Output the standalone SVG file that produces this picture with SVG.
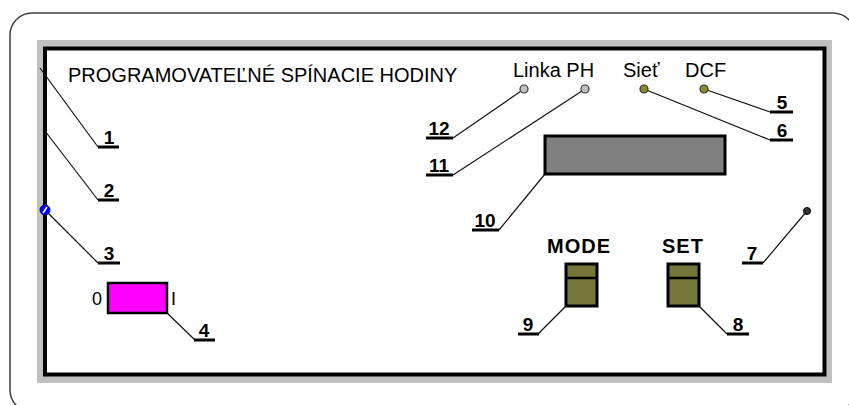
<svg xmlns="http://www.w3.org/2000/svg" width="849" height="405" viewBox="0 0 849 405">
<defs>
<style>
.t{font-family:"Liberation Sans",Arial,sans-serif;font-size:20px;fill:#000}
.n{font-family:"Liberation Sans",Arial,sans-serif;font-size:19px;font-weight:bold;fill:#000;text-anchor:middle}
.b{font-family:"Liberation Sans",Arial,sans-serif;font-size:20px;font-weight:bold;fill:#000;letter-spacing:1px}
.ln{stroke:#111;stroke-width:1.2;fill:none}
.ul{stroke:#000;stroke-width:3;fill:none}
.led{stroke:#333;stroke-width:1.2}
.btn{fill:#76763a;stroke:#000;stroke-width:3}
</style>
</defs>
<rect width="849" height="405" fill="#fff"/>
<g id="frame">
<rect x="10" y="13" width="845" height="399" rx="22" ry="22" fill="none" stroke="#404040" stroke-width="1.5"/>
<rect x="37" y="40" width="795" height="343" fill="#c0c0c0"/>
<rect x="45" y="48.5" width="779.5" height="326" fill="#fff" stroke="#000" stroke-width="4"/>
</g>
<g id="title"><text class="t" x="68" y="82">PROGRAMOVATEĽNÉ SPÍNACIE HODINY</text></g>
<g id="connectors">
<polyline class="ln" points="40,68 98,147"/>
<polyline class="ln" points="45,131 98,200"/>
<polyline class="ln" points="48,213 98,263"/>
<polyline class="ln" points="167,313 195,340"/>
<polyline class="ln" points="704,89 770,112"/>
<polyline class="ln" points="644,89 770,140"/>
<polyline class="ln" points="807,211 763,263"/>
<polyline class="ln" points="699,306 727,334"/>
<polyline class="ln" points="566,306 538,334"/>
<polyline class="ln" points="545,174 499,230"/>
<polyline class="ln" points="585,89 453,175"/>
<polyline class="ln" points="524,89 453,138"/>
</g>
<g id="labels">
<line class="ul" x1="98" y1="147" x2="119" y2="147"/><text class="n" x="109" y="144">1</text>
<line class="ul" x1="98" y1="200" x2="119" y2="200"/><text class="n" x="109" y="197">2</text>
<line class="ul" x1="98" y1="263" x2="120" y2="263"/><text class="n" x="109" y="260">3</text>
<line class="ul" x1="194" y1="340" x2="215" y2="340"/><text class="n" x="204" y="337">4</text>
<line class="ul" x1="770" y1="112" x2="793" y2="112"/><text class="n" x="782" y="109">5</text>
<line class="ul" x1="770" y1="140" x2="793" y2="140"/><text class="n" x="782" y="137">6</text>
<line class="ul" x1="742" y1="263" x2="763" y2="263"/><text class="n" x="752" y="260">7</text>
<line class="ul" x1="727" y1="334" x2="749" y2="334"/><text class="n" x="738" y="331">8</text>
<line class="ul" x1="518" y1="334" x2="539" y2="334"/><text class="n" x="528" y="331">9</text>
<line class="ul" x1="472" y1="230" x2="499" y2="230"/><text class="n" x="485" y="227">10</text>
<line class="ul" x1="426" y1="175" x2="453" y2="175"/><text class="n" x="439" y="172">11</text>
<line class="ul" x1="426" y1="138" x2="453" y2="138"/><text class="n" x="439" y="135">12</text>
</g>
<g id="node-3-knob">
<circle cx="45" cy="210" r="5" fill="#0000ff" stroke="#000080" stroke-width="1"/>
<line x1="43" y1="213" x2="47" y2="207" stroke="#fff" stroke-width="1.5"/>
</g>
<g id="node-4-switch">
<rect x="108" y="283" width="59" height="30" fill="#ff00ff" stroke="#000" stroke-width="2.5"/>
<text class="t" x="92" y="305" style="font-size:18px">0</text>
<text class="t" x="171" y="305" style="font-size:18px">I</text>
</g>
<g id="node-leds">
<text class="t" x="513" y="77">Linka PH</text>
<text class="t" x="623" y="77">Sieť</text>
<text class="t" x="685" y="77">DCF</text>
<circle class="led" cx="524" cy="89" r="4" fill="#c0c0c0"/>
<circle class="led" cx="585" cy="89" r="4" fill="#c0c0c0"/>
<circle class="led" cx="644" cy="89" r="4" fill="#8a8a30"/>
<circle class="led" cx="704" cy="89" r="4" fill="#8a8a30"/>
</g>
<g id="node-10-display">
<rect x="545" y="136" width="180" height="38" fill="#808080" stroke="#000" stroke-width="3"/>
</g>
<g id="node-7">
<circle cx="807" cy="211" r="3.5" fill="#333" stroke="#000" stroke-width="1"/>
</g>
<g id="node-9-mode">
<text class="b" x="547" y="253">MODE</text>
<rect class="btn" x="566" y="264" width="31" height="42"/>
<line x1="566" y1="278" x2="597" y2="278" stroke="#000" stroke-width="2.5"/>
</g>
<g id="node-8-set">
<text class="b" x="662" y="253">SET</text>
<rect class="btn" x="668" y="264" width="31" height="42"/>
<line x1="668" y1="278" x2="699" y2="278" stroke="#000" stroke-width="2.5"/>
</g>
</svg>
